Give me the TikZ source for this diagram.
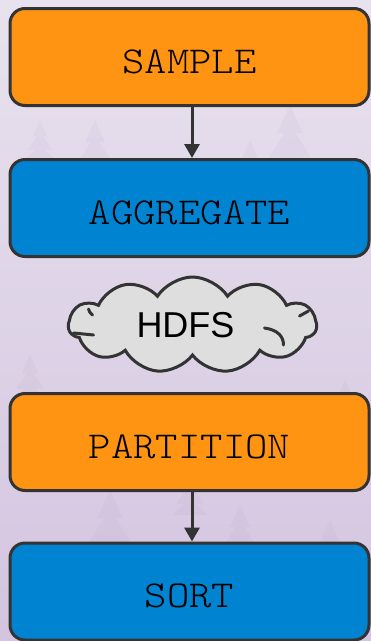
\documentclass[tikz,border=0pt]{standalone}
\usepackage{fontspec}
\newfontfamily\labelsans{Liberation Sans}
\newfontfamily\stagemono[FakeStretch=1.12]{lmmonolt10-regular.otf}
\usetikzlibrary{shapes.symbols,arrows.meta}
\definecolor{bgtop}{HTML}{E8E2EE}
\definecolor{bgbot}{HTML}{D3C4DF}
\definecolor{treecol}{HTML}{B9A3CC}
\definecolor{boxorange}{HTML}{FF9412}
\definecolor{boxblue}{HTML}{0084D2}
\definecolor{edge}{HTML}{333333}
\definecolor{cloudfill}{HTML}{DEDEDE}
\tikzset{
  stage/.style={draw=edge, line width=3pt, rounded corners=15pt,
    minimum width=359pt, minimum height=97pt, inner sep=0pt,
    text height=32pt, text depth=0pt,
    font=\fontsize{38}{44}\selectfont\stagemono, text=black},
  orangestage/.style={stage, fill=boxorange},
  bluestage/.style={stage, fill=boxblue},
  flow/.style={draw=edge, line width=3pt,
    -{Triangle[length=14pt,width=15pt]}},
  store/.style={cloud, cloud puffs=11, cloud puff arc=115, cloud ignores aspect,
    draw=edge, line width=3pt, fill=cloudfill, minimum width=248pt,
    minimum height=96pt, inner sep=0pt,
    font=\fontsize{36}{40}\selectfont\labelsans, text=black},
  curl/.style={draw=edge, line width=3pt, line cap=round},
  tree/.style={fill=treecol, opacity=0.12, draw=none}
}
\begin{document}
\begin{tikzpicture}[x=1pt,y=-1pt]
  % background
  \shade[top color=bgtop, bottom color=bgbot] (0,0) rectangle (371,641);
  \useasboundingbox (0,0) rectangle (371,641);
  % faint pine silhouettes
  \foreach \tx/\ty/\th in {290/175/70, 250/185/45, 95/175/55, 40/160/40, 330/600/80,
      110/560/70, 240/560/55, 60/620/60, 190/515/45, 345/430/50, 30/400/45} {
    \fill[tree] (\tx,\ty-\th) -- (\tx+0.18*\th,\ty-0.6*\th) -- (\tx+0.08*\th,\ty-0.6*\th)
      -- (\tx+0.3*\th,\ty-0.25*\th) -- (\tx+0.12*\th,\ty-0.25*\th) -- (\tx+0.4*\th,\ty)
      -- (\tx-0.4*\th,\ty) -- (\tx-0.12*\th,\ty-0.25*\th) -- (\tx-0.3*\th,\ty-0.25*\th)
      -- (\tx-0.08*\th,\ty-0.6*\th) -- (\tx-0.18*\th,\ty-0.6*\th) -- cycle;
  }
  % stages
  \node[orangestage] (sample) at (189.5,57) {SAMPLE};
  \node[bluestage] (aggregate) at (189.5,208) {AGGREGATE};
  \node[store] (hdfs) at (192.5,325) {HDFS\kern14pt};
  \node[orangestage] (partition) at (189.5,442) {PARTITION};
  \node[bluestage] (sort) at (189.5,591.5) {SORT};
  % inner strokes of the cloud
  \draw[curl] (hdfs.center) ++(-119,8) -- ++(20,2);
  \draw[curl] (hdfs.center) ++(-104,-16) .. controls ++(1,3) .. ++(4,6);
  \draw[curl] (hdfs.center) ++(107,-9) -- ++(9,-5);
  \draw[curl] (hdfs.center) ++(72,3) .. controls ++(14,2) and ++(0,-8) .. ++(19,17);
  % connectors
  \draw[flow] ([xshift=2.5pt]sample.south) -- ([xshift=2.5pt]aggregate.north);
  \draw[flow] ([xshift=2.5pt]partition.south) -- ([xshift=2.5pt]sort.north);
\end{tikzpicture}
\end{document}
